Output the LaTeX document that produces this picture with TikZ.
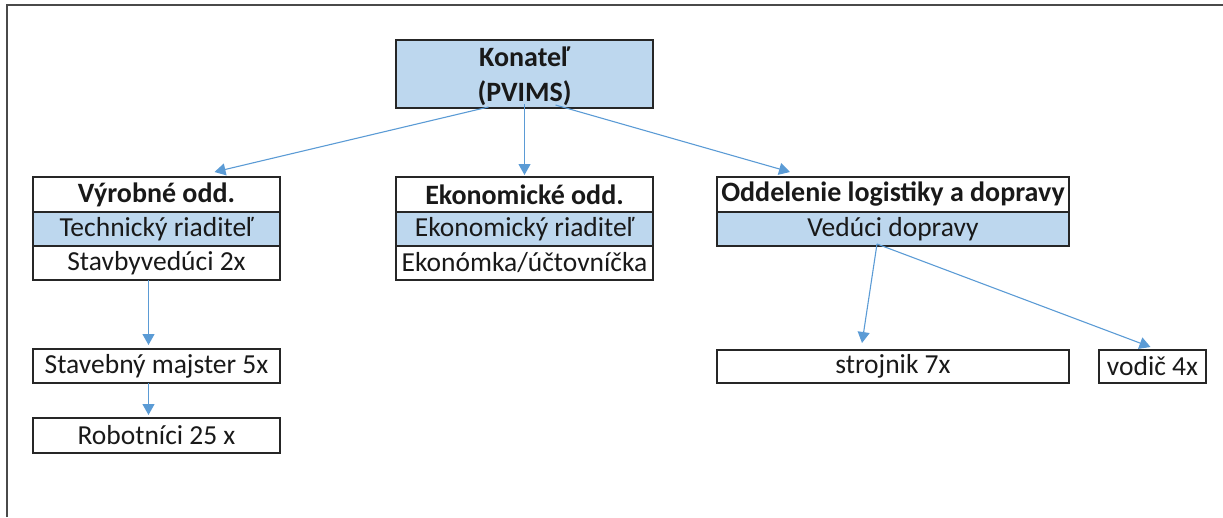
\documentclass[tikz,border=0pt]{standalone}
\usepackage{fontspec}
\setmainfont{Carlito}
\usetikzlibrary{arrows.meta,calc}
\definecolor{lblue}{HTML}{BDD7EE}
\definecolor{arr}{HTML}{5B9BD5}
\definecolor{frame}{HTML}{4A4A4A}
\tikzset{
  cell/.style={draw=black!85, line width=1.3pt, inner sep=0pt, outer sep=0pt,
    font=\fontsize{27.5}{30}\selectfont, text=black!90},
  bluecell/.style={cell, fill=lblue},
  hdr/.style={font=\fontsize{28}{35}\selectfont\bfseries},
  conn/.style={draw=arr, line width=1.1pt, -{Triangle[length=11pt,width=12pt]}},
}
\begin{document}
\begin{tikzpicture}[x=1pt,y=-1pt]
\useasboundingbox (0,0) rectangle (1223,517);
\draw[frame, line width=2pt] (7,517) -- (7,5) -- (1223,5);
% Konatel
\node[bluecell, minimum width=257pt, minimum height=68pt, align=center, hdr, text=black!90]
  (k) at (524.5,74) {};
\node[hdr, align=center, text=black!90, inner sep=0pt] (kt) at (524.5,76) {Konateľ\\(PVIMS)};
% Vyrobne
\node[cell, hdr, minimum width=247pt, minimum height=35pt] (v1) at (156.5,194.5) {Výrobné odd.};
\node[bluecell, minimum width=247pt, minimum height=34pt] (v2) at (156.5,229) {Technický riaditeľ};
\node[cell, minimum width=247pt, minimum height=34pt] (v3) at (156.5,263) {Stavbyvedúci 2x};
\node[cell, minimum width=247pt, minimum height=34pt] (s) at (156.5,366) {Stavebný majster 5x};
\node[cell, minimum width=247pt, minimum height=35pt] (r) at (156.5,435.5) {Robotníci 25 x};
% Ekonomicke
\node[cell, hdr, minimum width=257pt, minimum height=35pt] (e1) at (524.5,194.5) {Ekonomické odd.};
\node[bluecell, minimum width=257pt, minimum height=34pt] (e2) at (524.5,229) {Ekonomický riaditeľ};
\node[cell, minimum width=257pt, minimum height=34pt] (e3) at (524.5,263) {Ekonómka/účtovníčka};
% Logistika
\node[cell, hdr, minimum width=352pt, minimum height=35pt] (l1) at (893,194.5) {Oddelenie logistiky a dopravy};
\node[bluecell, minimum width=352pt, minimum height=34pt] (l2) at (893,229) {Vedúci dopravy};
\node[cell, minimum width=352pt, minimum height=33pt] (st) at (893,366.5) {strojnik 7x};
\node[cell, minimum width=107pt, minimum height=33pt] (vo) at (1152.5,366.5) {vodič 4x};
% connectors
\draw[conn] ([xshift=-36pt,yshift=1pt]k.south) -- ([xshift=58pt,yshift=5pt]v1.north);
\draw[conn] ([yshift=4pt]k.south) -- ([yshift=2pt]e1.north);
\draw[conn] ([xshift=31pt,yshift=3pt]k.south) -- ([xshift=-103pt,yshift=5pt]l1.north);
\draw[conn] ([xshift=-8pt]v3.south) -- ([xshift=-8pt,yshift=4pt]s.north);
\draw[conn] ([xshift=-8pt]s.south) -- ([xshift=-8pt,yshift=3pt]r.north);
\draw[conn] ([xshift=-16pt,yshift=2pt]l2.south) -- ([xshift=-31pt,yshift=7pt]st.north);
\draw[conn] ([xshift=-16pt,yshift=2pt]l2.south) -- ([xshift=-2pt,yshift=3pt]vo.north);
\end{tikzpicture}
\end{document}
